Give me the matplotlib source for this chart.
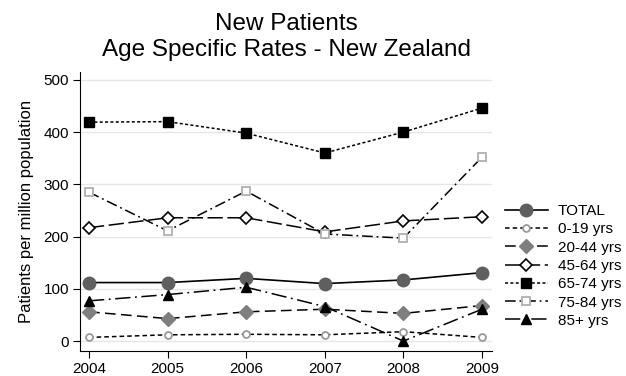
import numpy as np
import matplotlib.pyplot as plt

plt.rcParams['font.family'] = ['Liberation Sans', 'DejaVu Sans']

years = [2004, 2005, 2006, 2007, 2008, 2009]
total = [112, 112, 120, 110, 117, 131]
age_0_19 = [7, 12, 13, 12, 18, 7]
age_20_44 = [56, 43, 56, 61, 53, 68]
age_45_64 = [217, 236, 236, 209, 230, 238]
age_65_74 = [419, 420, 398, 360, 400, 446]
age_75_84 = [285, 211, 287, 205, 197, 352]
age_85_plus = [77, 89, 103, 66, 0, 61]

fig = plt.figure(figsize=(6.26, 3.76), dpi=100)
ax = fig.add_axes([80/626, 25/376, 412/626, 279/376])

ax.plot(years, total, color='black', lw=1.2, ls='-', marker='o', ms=9,
        mfc='#5f5f5f', mec='#5f5f5f', label='TOTAL')
ax.plot(years, age_0_19, color='black', lw=1.1, ls=(0, (3, 2)), marker='o', ms=5,
        mfc='white', mec='#999999', mew=1.3, label='0-19 yrs')
ax.plot(years, age_20_44, color='black', lw=1.1, ls=(0, (7, 3.5)), marker='D', ms=7,
        mfc='#7f7f7f', mec='#7f7f7f', label='20-44 yrs')
ax.plot(years, age_45_64, color='black', lw=1.1, ls=(0, (10, 3)), marker='D', ms=6.5,
        mfc='white', mec='black', mew=1.2, label='45-64 yrs')
ax.plot(years, age_65_74, color='black', lw=1.1, ls=(0, (2, 1.5)), marker='s', ms=7,
        mfc='black', mec='black', label='65-74 yrs')
ax.plot(years, age_75_84, color='black', lw=1.1, ls=(0, (7, 2.5, 1.2, 2.5)), marker='s', ms=6,
        mfc='white', mec='#b0b0b0', mew=1.3, label='75-84 yrs')
ax.plot(years, age_85_plus, color='black', lw=1.1, ls=(0, (10, 3, 1.2, 3)), marker='^', ms=7,
        mfc='black', mec='black', label='85+ yrs')

ax.set_xlim(2004 - 9/78.6, 2009 + 10/78.6)
ax.set_ylim(-19, 515)
ax.set_xticks(years)
ax.set_yticks([0, 100, 200, 300, 400, 500])
ax.tick_params(axis='both', labelsize=11, length=5, width=0.8, color='black', pad=3)
ax.yaxis.grid(True, color='#e6e6e6', lw=1.0)
ax.set_axisbelow(True)
for s in ['top', 'right']:
    ax.spines[s].set_visible(False)
for s in ['left', 'bottom']:
    ax.spines[s].set_linewidth(0.8)

ax.set_ylabel('Patients per million population', fontsize=12, labelpad=7)

fig.text(286/626, 1 - 30/376, 'New Patients', ha='center', va='baseline', fontsize=17.5)
fig.text(286/626, 1 - 56/376, 'Age Specific Rates - New Zealand', ha='center', va='baseline', fontsize=17.5)

leg = ax.legend(loc='center left', bbox_to_anchor=((505 - 80)/412, (351 - 266)/279),
                frameon=False, fontsize=11, handlelength=2.8, handletextpad=0.65,
                labelspacing=0.28, borderaxespad=0, borderpad=0)

fig.savefig('out.png', dpi=100)
